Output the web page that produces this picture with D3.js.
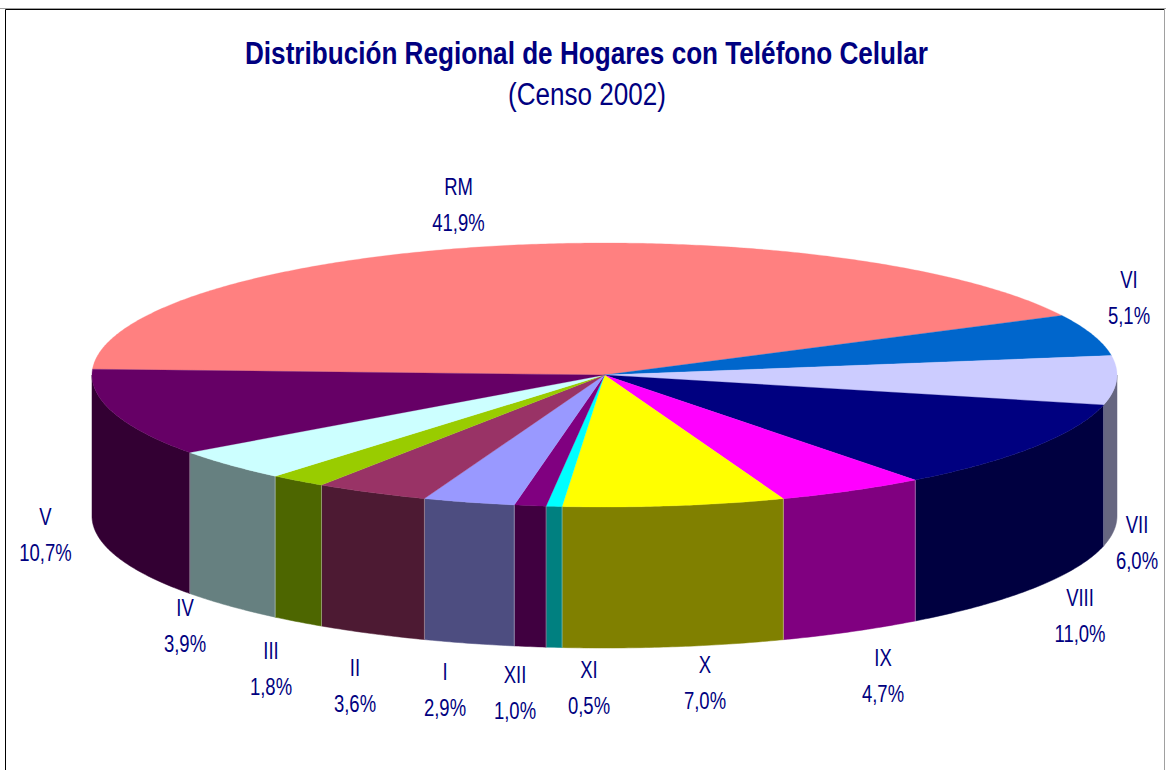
<!DOCTYPE html>
<html>
<head>
<meta charset="utf-8">
<script src="https://cdn.jsdelivr.net/npm/d3@7"></script>
<style>
    body { margin: 0; background: #fff; }
    svg { display: block; }
    text { font-family: "Liberation Sans", Arial, sans-serif; fill: #000080; }
</style>
</head>
<body>
<div id="chart"></div>
<script>
// Chart values
const regions = ['RM', 'VI', 'VII', 'VIII', 'IX', 'X', 'XI', 'XII', 'I', 'II', 'III', 'IV', 'V'];
const shares = [41.9, 5.1, 6.0, 11.0, 4.7, 7.0, 0.5, 1.0, 2.9, 3.6, 1.8, 3.9, 10.7];
const topColors = ['#ff8080', '#0066cc', '#ccccff', '#000080', '#ff00ff', '#ffff00', '#00ffff',
    '#800080', '#9999ff', '#993366', '#99cc00', '#ccffff', '#660066'];
const sideColors = ['#804040', '#003366', '#666680', '#000040', '#800080', '#808000', '#008080',
    '#400040', '#4d4d80', '#4d1a33', '#4d6600', '#668080', '#330033'];

// Label anchors, first line baseline
const labelAnchors = [[458.5, 195], [1129, 288], [1137, 533], [1080, 606], [883, 666], [705, 673],
    [589, 678], [515, 683], [445, 680], [355, 676], [271, 659], [185, 616], [45.5, 524.5]];

const width = 1166;
const height = 770;
const cx = 604.5, cy = 375, rx = 512.5, ry = 132, depth = 141;

const svg = d3
    .select('#chart')
    .append('svg')
    .attr('width', width)
    .attr('height', height);

// Frame: only top, left and right edges are inside the crop
svg.append('path').attr('d', 'M0,8.5H1166').attr('stroke', '#a0a0a0').attr('fill', 'none');
svg.append('path').attr('d', 'M5.5,770V9.5H1164').attr('stroke', '#000').attr('stroke-width', 1).attr('fill', 'none');
svg.append('path').attr('d', 'M1164.5,9V770').attr('stroke', '#a0a0a0').attr('fill', 'none');

// Unit circle to the flattened ellipse
const xScale = d3.scaleLinear().domain([-1, 1]).range([cx - rx, cx + rx]);
const yScale = d3.scaleLinear().domain([-1, 1]).range([cy - ry, cy + ry]);
const deg = Math.PI / 180;

const pie = d3
    .pie()
    .sort(null)
    .startAngle(-87.5 * deg)
    .endAngle(272.5 * deg);
const slices = pie(shares);

const line = d3.line();
const rimPoint = (a, drop = 0) => [xScale(Math.sin(a)), yScale(-Math.cos(a)) + drop];
const rim = (a0, a1, drop = 0) => {
    const n = Math.max(2, Math.ceil((a1 - a0) / (0.5 * deg)));
    return d3.range(n + 1).map((i) => rimPoint(a0 + ((a1 - a0) * i) / n, drop));
};

// Side walls, only the front half of the rim shows
const front = slices
    .map((d, i) => ({ i, a0: Math.max(d.startAngle, 90 * deg), a1: Math.min(d.endAngle, 270 * deg) }))
    .filter((d) => d.a1 > d.a0);

svg.append('g')
    .selectAll('path')
    .data(front)
    .enter()
    .append('path')
    .attr('d', (d) => line([...rim(d.a0, d.a1), ...rim(d.a0, d.a1, depth).reverse()]) + 'Z')
    .attr('fill', (d) => sideColors[d.i])
    .attr('stroke', (d) => sideColors[d.i])
    .attr('stroke-width', 0.5);

// Pale edges between the wall panels
svg.append('g')
    .selectAll('path')
    .data(front.slice(1))
    .enter()
    .append('path')
    .attr('d', (d) => line([rimPoint(d.a0), rimPoint(d.a0, depth)]))
    .attr('stroke', '#fff')
    .attr('stroke-opacity', 0.35)
    .attr('fill', 'none');

// Top face
svg.append('g')
    .selectAll('path')
    .data(slices)
    .enter()
    .append('path')
    .attr('d', (d) => line([[xScale(0), yScale(0)], ...rim(d.startAngle, d.endAngle)]) + 'Z')
    .attr('fill', (d, i) => topColors[i])
    .attr('stroke', (d, i) => topColors[i])
    .attr('stroke-width', 0.3);

// Squeezed text, like the stretched original
const addText = (str, x, y, size, w, weight) => {
    const t = svg
        .append('text')
        .attr('x', x)
        .attr('y', y)
        .attr('text-anchor', 'middle')
        .attr('font-size', size)
        .attr('font-weight', weight || 'normal')
        .text(str);
    if (w) t.attr('textLength', w).attr('lengthAdjust', 'spacingAndGlyphs');
    return t;
};

addText('Distribución Regional de Hogares con Teléfono Celular', 586.5, 64, 31, 683, 'bold');
addText('(Censo 2002)', 587, 105, 31, 158);

const labelGroup = svg.append('g');
regions.forEach((name, i) => {
    const [x, y] = labelAnchors[i];
    const pct = shares[i].toFixed(1).replace('.', ',') + '%';
    [[name, y], [pct, y + 36]].forEach(([str, yy]) => {
        labelGroup
            .append('text')
            .attr('transform', `translate(${x},${yy}) scale(0.77,1)`)
            .attr('text-anchor', 'middle')
            .attr('font-size', 24)
            .text(str);
    });
});
</script>
</body>
</html>
